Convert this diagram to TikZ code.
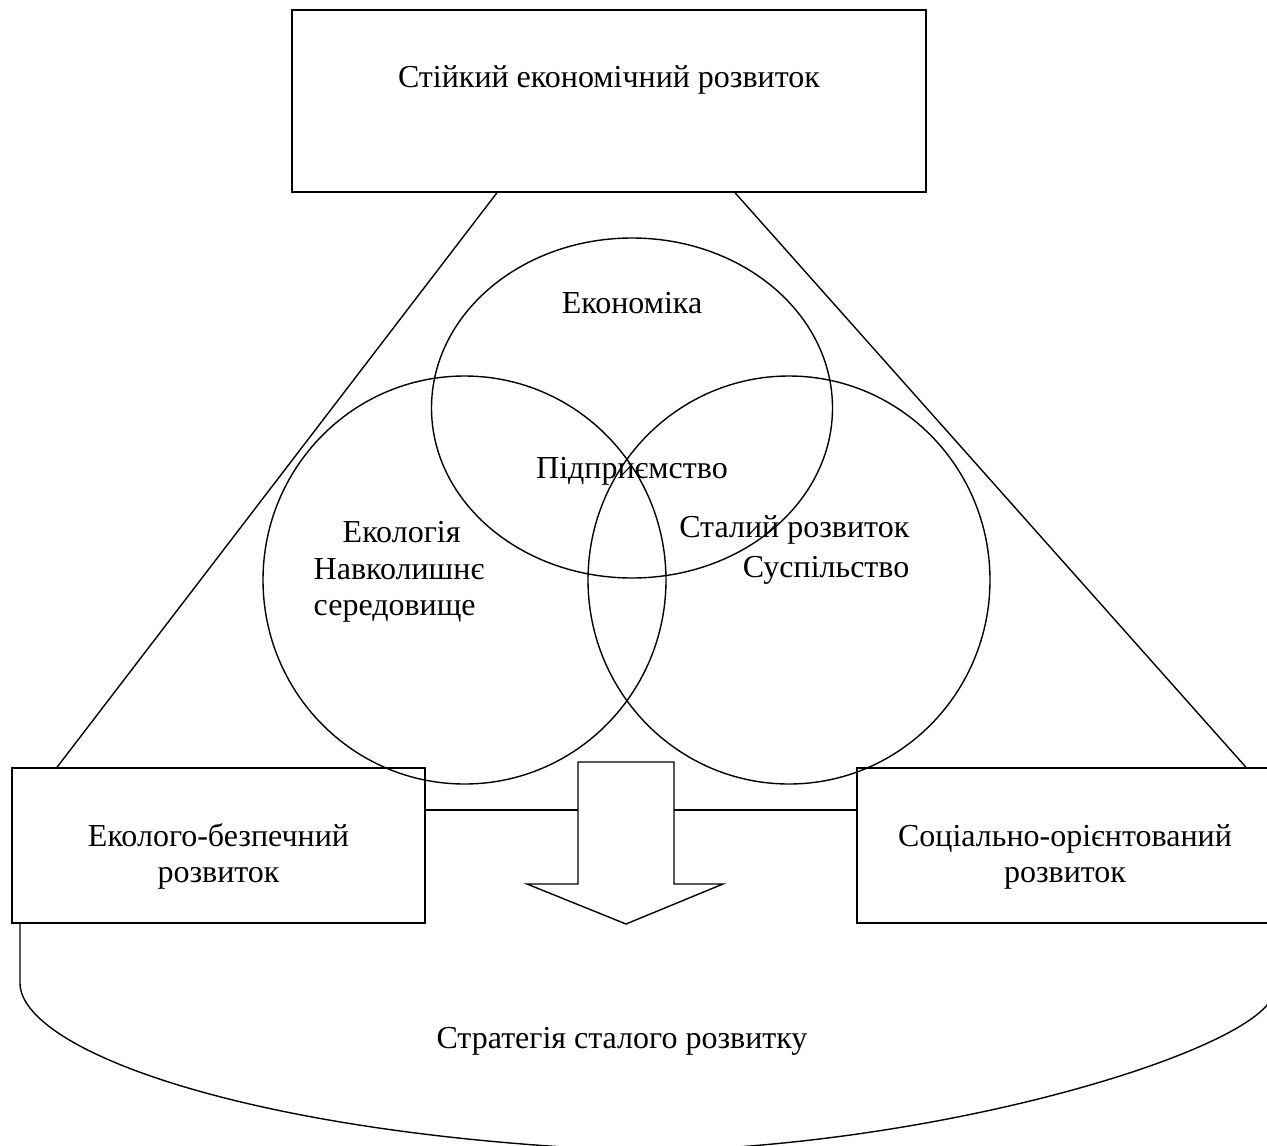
\documentclass[tikz,border=0pt]{standalone}
\usepackage{fontspec}
\setmainfont{Liberation Serif}
\begin{document}
\begin{tikzpicture}[x=1pt,y=-1pt,line width=1.4pt,
  lbl/.style={font=\fontsize{32}{37}\selectfont,inner sep=0pt},
  txtbase/.style={lbl,anchor=base},
  txtwest/.style={lbl,anchor=base west},
  txteast/.style={lbl,anchor=base east},
  boxx/.style={draw,rectangle,inner sep=0pt}]
\useasboundingbox (0,0) rectangle (1267,1146);
% boxes
\node[boxx,minimum width=634pt,minimum height=182pt] (top) at (609,101) {};
\node[boxx,minimum width=413pt,minimum height=155pt] (lbox) at (218.5,845.5) {};
\node[boxx,minimum width=420pt,minimum height=155pt] (rbox) at (1067,845.5) {};
% ellipses
\draw (632,408) ellipse [x radius=200.5pt, y radius=170pt];
\draw (464.5,580) ellipse [x radius=201.5pt, y radius=204pt];
\draw (789,580) ellipse [x radius=201pt, y radius=204pt];
\node (eco) at (632,408) {};
\node (env) at (464.5,580) {};
\node (soc) at (789,580) {};
% diagonal connectors
\draw (top.south -| 497,0) -- (lbox.north -| 57,0);
\draw (top.south -| 735,0) -- (rbox.north -| 1246,0);
% arrow
\draw (578,762) coordinate (a1) -- (674,762) coordinate (a2) -- (674,884) coordinate (a3)
  -- (723,884) -- (626,924) coordinate (tip) -- (527,884) -- (578,884) coordinate (a4) -- cycle;
\coordinate (aL) at (578,810);
\coordinate (aR) at (674,810);
\draw (lbox.east |- aL) -- (aL);
\draw (aR) -- (rbox.west |- aR);
% bottom bracket
\draw (lbox.south -| 20,0) -- (20,983) .. controls (20,1050) and (250,1137) .. (645,1151)
  .. controls (950,1147) and (1274,1045) .. (1274,990) -- (rbox.south -| 1274,0);
% texts
\node[txtbase] (ttop) at (609,87) {Стійкий економічний розвиток};
\node[txtbase] (tecon) at (632,313) {Економіка};
\node[txtbase] (tent) at (632,478) {Підприємство};
\node[txtwest] (tenv1) at (342,542) {Екологія};
\node[txtwest] (tenv2) at (313,579) {Навколишнє};
\node[txtwest] (tenv3) at (313,615) {середовище};
\node[txteast] (tsoc1) at (910,537) {Сталий розвиток};
\node[txteast] (tsoc2) at (910,577) {Суспільство};
\node[txtbase] (tl1) at (218.5,846) {Еколого-безпечний};
\node[txtbase] (tl2) at (218.5,882) {розвиток};
\node[txtbase] (tr1) at (1065,846) {Соціально-орієнтований};
\node[txtbase] (tr2) at (1065,882) {розвиток};
\node[txtbase] (tstr) at (622,1048) {Стратегія сталого розвитку};
\end{tikzpicture}
\end{document}
